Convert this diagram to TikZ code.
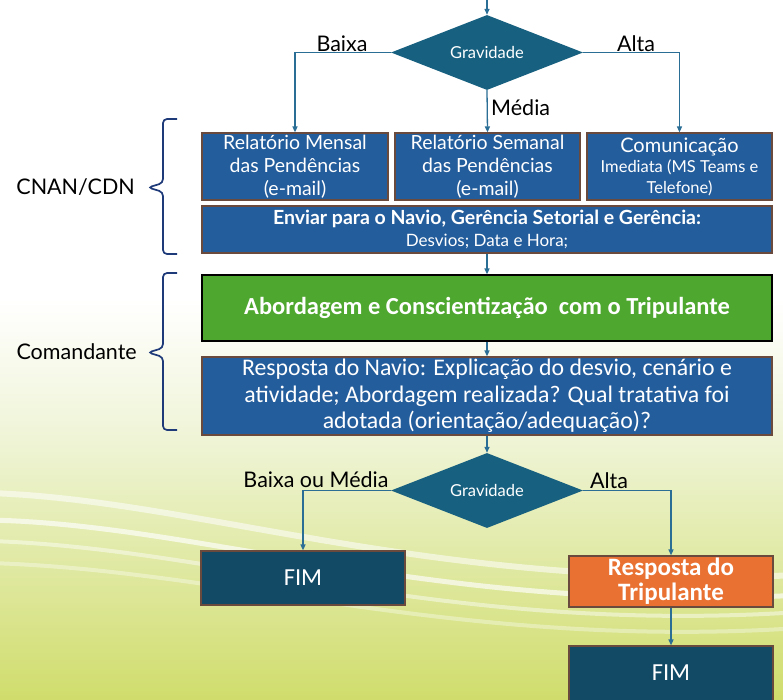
\documentclass[tikz,border=0pt]{standalone}
\usepackage{fontspec}
\setmainfont{Lato}
\newfontfamily\narrowfont{Carlito}
\usetikzlibrary{arrows.meta,shapes.geometric}
\definecolor{boxblue}{HTML}{245D9C}
\definecolor{boxedge}{HTML}{6A4A3C}
\definecolor{diacol}{HTML}{17607F}
\definecolor{fimcol}{HTML}{124A66}
\definecolor{conncol}{HTML}{2A6E96}
\definecolor{greenbox}{HTML}{4EA72E}
\definecolor{orangebox}{HTML}{E97132}
\definecolor{bracecol}{HTML}{1F3A78}
\definecolor{bgmid}{HTML}{EFF4D6}
\definecolor{bgbot}{HTML}{D0DD6C}
\tikzset{
  box/.style={draw=boxedge, line width=1.2pt, fill=boxblue, text=white, inner sep=0pt, align=center},
  fimbox/.style={box, fill=fimcol},
  diam/.style={diamond, aspect=2.56, fill=diacol, draw=none, inner sep=0pt, text=white,
     minimum width=192pt, minimum height=75pt, font=\fontsize{16.5}{18}\selectfont},
  conn/.style={draw=conncol, line width=1.3pt, -{Triangle[length=6pt,width=5pt]}},
  lbl/.style={text=black, inner sep=0pt, font=\fontsize{21.5}{24}\selectfont},
  brc/.style={draw=bracecol, line width=1.7pt, rounded corners=4pt},
  streak/.style={white, line cap=round}
}
\begin{document}
\begin{tikzpicture}[x=1pt,y=-1pt]
\useasboundingbox (0,0) rectangle (783,699);
% background
\fill[white] (0,0) rectangle (783,300);
\shade[top color=white, bottom color=bgmid] (0,299) rectangle (783,440);
\shade[top color=bgmid, bottom color=bgbot] (0,439) rectangle (783,699);
\begin{scope}
\clip (0,0) rectangle (783,699);
\draw[streak, opacity=0.55, line width=6pt] (-10,493) .. controls (200,500) and (430,590) .. (800,575);
\draw[streak, opacity=0.65, line width=5pt] (-10,520) .. controls (210,525) and (440,615) .. (800,595);
\draw[streak, opacity=0.45, line width=4pt] (-10,541) .. controls (220,548) and (450,635) .. (800,612);
\draw[streak, opacity=0.35, line width=4pt] (-10,563) .. controls (230,570) and (460,650) .. (800,628);
\end{scope}

% top part
\coordinate (top) at (487,0);
\node[diam] (d1) at (487,52.5) {Gravidade};
\node[box, minimum width=186pt, minimum height=67pt, font=\fontsize{19.5}{23}\selectfont] (b1) at (295,166.5) {Relatório Mensal\\das Pendências\\(e-mail)};
\node[box, minimum width=185pt, minimum height=67pt, font=\fontsize{19.5}{23}\selectfont] (b2) at (487.5,166.5) {Relatório Semanal\\das Pendências\\(e-mail)};
\node[box, minimum width=185pt, minimum height=67pt, font=\fontsize{16.5}{20.5}\selectfont] (b3) at (679.5,166.5) {{\fontsize{20}{20.5}\selectfont Comunicação}\\Imediata (MS Teams e\\Telefone)};
\node[box, minimum width=570pt, minimum height=47pt, font=\fontsize{17}{22}\selectfont] (env) at (487,229.5) {{\fontsize{19.5}{22}\selectfont\bfseries Enviar para o Navio, Gerência Setorial e Gerência:}\\Desvios; Data e Hora;};
\node[box, draw=black, fill=greenbox, minimum width=570pt, minimum height=66pt, font=\narrowfont\bfseries\fontsize{24.5}{26}\selectfont] (grn) at (487,308) {Abordagem e Conscientização \ com o Tripulante};
\node[box, minimum width=570pt, minimum height=78pt, font=\narrowfont\fontsize{23.8}{26.5}\selectfont] (resp) at (487,396) {Resposta do Navio: Explicação do desvio, cenário e\\atividade; Abordagem realizada? Qual tratativa foi\\adotada (orientação/adequação)?};
\node[diam] (d2) at (487,490.5) {Gravidade};
\node[fimbox, minimum width=204pt, minimum height=54pt, font=\narrowfont\fontsize{24.5}{26}\selectfont] (fim1) at (303,578) {FIM};
\node[box, fill=orangebox, minimum width=204pt, minimum height=51pt, font=\narrowfont\bfseries\fontsize{25}{25}\selectfont] (trip) at (671,581.5) {Resposta do\\Tripulante};
\node[fimbox, minimum width=204pt, minimum height=74pt] (fim2) at (671,683) {};
\node[text=white, inner sep=0pt, font=\narrowfont\fontsize{24.5}{26}\selectfont] (fim2t) at (671,673) {FIM};

% connectors
\draw[conn] (top) -- (d1.north);
\draw[conn] (d1.west) -| (b1.north);
\draw[conn] (d1.south) -- (b2.north);
\draw[conn] (d1.east) -| (b3.north);
\draw[conn] (env.south) -- (grn.north);
\draw[conn] (grn.south) -- (resp.north);
\draw[conn] (resp.south) -- (d2.north);
\draw[conn] (d2.west) -| (fim1.north);
\draw[conn] (d2.east) -| (trip.north);
\draw[conn] (trip.south) -- (fim2.north);

% labels
\node[lbl] (lb1) at (342,44) {Baixa};
\node[lbl] (la1) at (636,44) {Alta};
\node[lbl, anchor=west] (lm1) at (491,108) {Média};
\node[lbl] (lb2) at (316,480) {Baixa ou Média};
\node[lbl] (la2) at (609,481) {Alta};

% braces
\draw[brc] (177,119) -- (163,119) -- (163,183) -- (148,187.5) -- (163,192) -- (163,254) -- (177,254);
\draw[brc] (177,273) -- (163,273) -- (163,348) -- (148,352.5) -- (163,357) -- (163,430) -- (177,430);
\node[lbl, anchor=east] (cnan) at (135,187) {CNAN/CDN};
\node[lbl, anchor=east] (cmd) at (137,352) {Comandante};
\end{tikzpicture}
\end{document}
